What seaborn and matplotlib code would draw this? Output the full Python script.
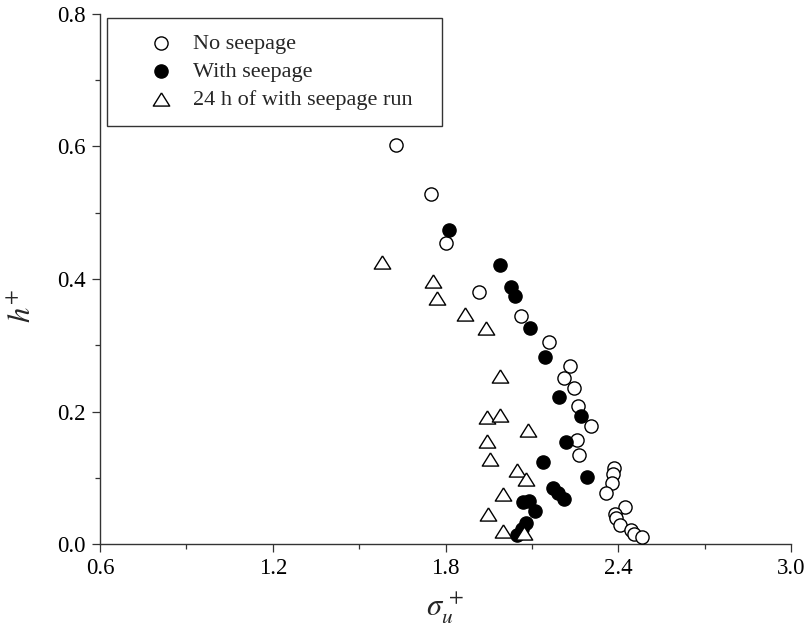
import matplotlib
matplotlib.use("Agg")
import matplotlib.pyplot as plt
import numpy as np
import pandas as pd
import seaborn as sns
from matplotlib.ticker import MultipleLocator, FormatStrFormatter

# Turbulence intensity (sigma_u+) vs. normalised height (h+)
no_seep_sigma = [1.628, 1.748, 1.801, 1.917, 2.062, 2.159, 2.232, 2.212, 2.246,
                 2.259, 2.305, 2.255, 2.263, 2.386, 2.383, 2.379, 2.359, 2.423,
                 2.388, 2.392, 2.406, 2.446, 2.454, 2.483]
no_seep_h = [0.603, 0.528, 0.454, 0.381, 0.344, 0.305, 0.269, 0.251, 0.236,
             0.209, 0.178, 0.157, 0.134, 0.115, 0.105, 0.092, 0.077, 0.056,
             0.045, 0.040, 0.028, 0.021, 0.015, 0.010]

seep_sigma = [1.813, 1.990, 2.026, 2.040, 2.095, 2.146, 2.193, 2.269, 2.218,
              2.138, 2.290, 2.174, 2.191, 2.211, 2.070, 2.091, 2.110, 2.081,
              2.064, 2.047]
seep_h = [0.474, 0.421, 0.388, 0.375, 0.326, 0.283, 0.222, 0.193, 0.154,
          0.124, 0.101, 0.084, 0.077, 0.068, 0.063, 0.065, 0.050, 0.031,
          0.022, 0.014]

run24_sigma = [1.578, 1.757, 1.771, 1.867, 1.940, 1.989, 1.943, 1.989, 2.085,
               1.943, 1.954, 2.049, 2.079, 1.998, 1.946, 2.000, 2.073]
run24_h = [0.425, 0.397, 0.372, 0.347, 0.326, 0.254, 0.191, 0.194, 0.172,
           0.155, 0.129, 0.112, 0.098, 0.076, 0.045, 0.019, 0.016]

series_labels = ["No seepage", "With seepage", "24 h of with seepage run"]

sns.set_theme(style="ticks")
plt.rcParams["font.family"] = ["Liberation Serif", "DejaVu Serif"]
plt.rcParams["mathtext.fontset"] = "stix"

fig = plt.figure(figsize=(8.07, 6.36), dpi=100)
ax = fig.add_axes([100 / 807, 1 - 544 / 636, 691 / 807, 530 / 636])

# slightly wide open triangle
tri = [(0, 0.8), (-1, -0.8), (1, -0.8), (0, 0.8)]

df_no = pd.DataFrame({"sigma": no_seep_sigma, "h": no_seep_h})
df_seep = pd.DataFrame({"sigma": seep_sigma, "h": seep_h})
df_run = pd.DataFrame({"sigma": run24_sigma, "h": run24_h})

sns.scatterplot(data=df_no, x="sigma", y="h", ax=ax, marker="o", s=90,
                facecolor="white", edgecolor="black", linewidth=1.0,
                label=series_labels[0], zorder=3, clip_on=False)
sns.scatterplot(data=df_seep, x="sigma", y="h", ax=ax, marker="o", s=90,
                facecolor="black", edgecolor="black", linewidth=1.0,
                label=series_labels[1], zorder=4, clip_on=False)
sns.scatterplot(data=df_run, x="sigma", y="h", ax=ax, marker=tri, s=140,
                facecolor="white", edgecolor="black", linewidth=1.0,
                label=series_labels[2], zorder=5, clip_on=False)

ax.set_xlim(0.6, 3.0)
ax.set_ylim(0.0, 0.8)
ax.xaxis.set_major_locator(MultipleLocator(0.6))
ax.xaxis.set_minor_locator(MultipleLocator(0.3))
ax.yaxis.set_major_locator(MultipleLocator(0.2))
ax.yaxis.set_minor_locator(MultipleLocator(0.1))
ax.xaxis.set_major_formatter(FormatStrFormatter("%.1f"))
ax.yaxis.set_major_formatter(FormatStrFormatter("%.1f"))

for side in ["top", "right"]:
    ax.spines[side].set_visible(False)
for side in ["left", "bottom"]:
    ax.spines[side].set_color("#333333")
    ax.spines[side].set_linewidth(1.0)

ax.tick_params(which="major", direction="out", length=6, width=0.9,
               color="#333333", labelsize=16.5, labelcolor="black")
ax.tick_params(which="minor", direction="out", length=3.8, width=0.9,
               color="#333333")
ax.tick_params(axis="x", which="major", pad=4)
ax.tick_params(axis="y", which="major", pad=4)

ax.set_xlabel(r"$\sigma_u^{\,+}$", fontsize=22)
ax.set_ylabel(r"$h^{+}$", fontsize=22)
ax.xaxis.set_label_coords(0.50, -0.088)
ax.yaxis.set_label_coords(-0.09, 0.45)

leg = ax.legend(loc="upper left", bbox_to_anchor=(0.010, 0.0, 0.485, 0.9925),
                mode="expand", borderaxespad=0, frameon=True, fancybox=False,
                fontsize=16, borderpad=0.7, labelspacing=0.34,
                handlelength=3.5, handletextpad=-0.34)
leg.get_frame().set_edgecolor("#333333")
leg.get_frame().set_linewidth(1.0)
leg.get_frame().set_alpha(1)

fig.savefig("out.png", dpi=100)
